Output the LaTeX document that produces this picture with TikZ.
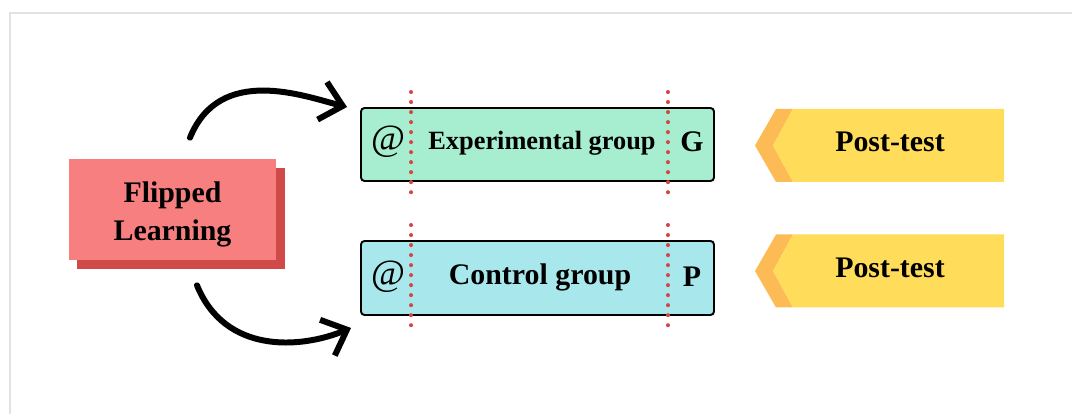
\documentclass[tikz,border=0pt]{standalone}
\usepackage{fontspec}
\setmainfont{Liberation Serif}
\usetikzlibrary{arrows.meta, positioning, calc, backgrounds}

\definecolor{flipred}{RGB}{247,127,127}
\definecolor{flipshadow}{RGB}{209,74,74}
\definecolor{expgreen}{RGB}{167,237,208}
\definecolor{ctrlcyan}{RGB}{168,232,237}
\definecolor{postyellow}{RGB}{255,221,90}
\definecolor{postorange}{RGB}{253,187,85}
\definecolor{dotred}{RGB}{214,69,69}
\definecolor{framegray}{RGB}{226,226,226}

\begin{document}
\begin{tikzpicture}[
    flipbox/.style={fill=flipred, minimum width=4.14cm, minimum height=2.02cm},
    groupbox/.style={draw=black, line width=1.1pt, rounded corners=2pt, minimum width=7.06cm, minimum height=1.46cm},
    lbl/.style={font=\fontsize{17}{20}\selectfont\bfseries},
    atlbl/.style={font=\fontsize{21}{24}\selectfont},
    dotline/.style={dotred, line width=2.3pt, line cap=round, dash pattern=on 0pt off 5.7pt},
    bigarrow/.style={line width=3.4pt, line cap=round, -{Straight Barb[length=12pt, width=22pt, line width=3.4pt]}},
  ]
    \useasboundingbox (0,0) rectangle (21.44,8.28);
    \draw[framegray, line width=1pt] (0.2,0) -- (0.2,8.02) -- (21.44,8.02);

    % flipped learning block
    \node[flipbox] (flip) at (3.45,4.09) {};
    \begin{scope}[on background layer]
      \fill[flipshadow] ([shift={(0.17,-0.18)}]flip.south west) rectangle ([shift={(0.17,-0.18)}]flip.north east);
    \end{scope}
    \node[lbl, align=center, font=\fontsize{17}{21.5}\selectfont\bfseries] (fliptxt) at ([yshift=-0.1cm]flip.center) {Flipped\\Learning};

    % the two groups
    \node[groupbox, fill=expgreen] (exp) at (10.75,5.39) {};
    \node[groupbox, fill=ctrlcyan, minimum height=1.48cm] (ctrl) at (10.75,2.72) {};

    \foreach \g in {exp, ctrl} {
      \draw[dotline] ([shift={(1.02,0.3)}]\g.north west) -- ([shift={(1.02,-0.24)}]\g.south west);
      \draw[dotline] ([shift={(-0.94,0.3)}]\g.north east) -- ([shift={(-0.94,-0.24)}]\g.south east);
    }

    \node[atlbl, anchor=base] (expat) at (7.76,5.26) {@};
    \node[lbl, anchor=base, font=\fontsize{15}{18}\selectfont\bfseries] (exptxt) at (10.84,5.28) {Experimental group};
    \node[lbl, anchor=base] (expg) at (13.84,5.25) {G};

    \node[atlbl, anchor=base] (ctrlat) at (7.76,2.56) {@};
    \node[lbl, anchor=base] (ctrltxt) at (10.8,2.58) {Control group};
    \node[lbl, anchor=base] (ctrlp) at (13.84,2.55) {P};

    % post-test tags
    \foreach \p/\y in {post1/5.37, post2/2.86} {
      \fill[postorange, shift={(0,\y)}] (15.52,0.73) -- (15.86,0.73) -- (15.46,0) -- (15.86,-0.73) -- (15.52,-0.73) -- (15.1,0) -- cycle;
      \fill[postyellow, shift={(0,\y)}] (15.86,0.73) -- (20.08,0.73) -- (20.08,-0.73) -- (15.86,-0.73) -- (15.46,0) -- cycle;
      \node[lbl, anchor=base] (\p) at (17.8,\y-0.13) {Post-test};
    }

    % curved arrows
    \draw[bigarrow] ([shift={(0.35,0.42)}]flip.north) .. controls (4.4,7.0) and (6.1,6.35) .. ([shift={(-0.26,0)}]exp.north west);
    \draw[bigarrow] ([shift={(0.49,-0.5)}]flip.south) .. controls (4.5,1.2) and (6.0,1.3) .. ([shift={(-0.18,-0.24)}]ctrl.south west);
\end{tikzpicture}
\end{document}
